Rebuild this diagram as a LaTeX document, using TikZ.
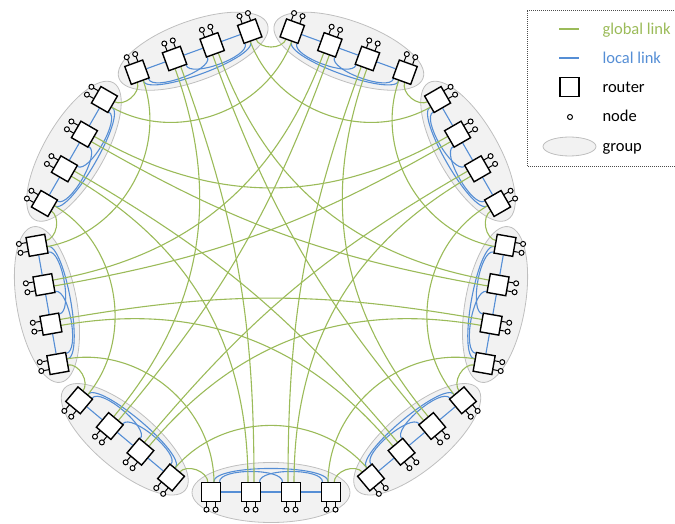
\documentclass[tikz,border=0pt]{standalone}
\usepackage{fontspec}
\setmainfont{Carlito}
\definecolor{glinkc}{HTML}{9BBB59}
\definecolor{llinkc}{HTML}{558ED5}
\pgfdeclarelayer{grps}
\pgfdeclarelayer{links}
\pgfsetlayers{grps,links,main}

\begin{document}
\begin{tikzpicture}[x=1pt, y=1pt, font=\fontsize{16.5}{19}\selectfont,
  router/.style={draw, fill=white, line width=1.4pt, minimum size=19pt, inner sep=0pt},
  host/.style={circle, draw, fill=white, line width=1pt, minimum size=5pt, inner sep=0pt},
  glink/.style={glinkc, line width=1.1pt},
  llink/.style={llinkc, line width=1.1pt},
  grp/.style={draw=black!25, fill=black!5, line width=0.8pt},
  legend/.style={anchor=base west}]
\useasboundingbox (0,0) rectangle (675,523);
\foreach \g in {0,...,8}{
  \pgfmathtruncatemacro\a{40*\g}
  \begin{scope}[shift={(271,258)}, rotate=\a]
    \begin{pgfonlayer}{grps}
      \draw[grp] (0,-227.5) ellipse [x radius=79, y radius=30];
    \end{pgfonlayer}
    \foreach \i in {0,...,3}{
      \pgfmathsetmacro\x{40*\i-60}
      \pgfmathtruncatemacro\pa{6-2*\i}
      \pgfmathtruncatemacro\pb{7-2*\i}
      \node[router, rotate=\a] (r\g-\i) at (\x,-227) {};
      \node[host] (h\g-\i-a) at ({\x-4.5},-244.6) {};
      \node[host] (h\g-\i-b) at ({\x+4.5},-244.6) {};
      \coordinate (g\g-p\pa) at ({\x+3},-218);
      \coordinate (g\g-p\pb) at ({\x-3},-218);
      \begin{pgfonlayer}{links}
        \draw[line width=1pt] (h\g-\i-a) -- ({\x-4.5},-236);
        \draw[line width=1pt] (h\g-\i-b) -- ({\x+4.5},-236);
      \end{pgfonlayer}
    }
    \begin{pgfonlayer}{links}
      \draw[llink] (r\g-0) -- (r\g-1) -- (r\g-2) -- (r\g-3);
      \draw[llink] (r\g-0.75) .. controls (-57.3,-199) and (57.3,-199) .. (r\g-3.105);
      \draw[llink] (r\g-0.50) .. controls (-51.6,-203) and (11.6,-203) .. (r\g-2.130);
      \draw[llink] (r\g-1.50) .. controls (-11.6,-203) and (51.6,-203) .. (r\g-3.130);
    \end{pgfonlayer}
  \end{scope}
}
\begin{pgfonlayer}{links}
\foreach \g in {0,...,8}{
  \foreach \dist in {1,...,4}{
    \pgfmathtruncatemacro\h{mod(\g+\dist,9)}
    \pgfmathtruncatemacro\p{\dist-1}
    \pgfmathtruncatemacro\q{8-\dist}
    \pgfmathtruncatemacro\ao{40*\g+90}
    \pgfmathtruncatemacro\ai{40*\h+90}
    \draw[glink] (g\g-p\p) to[out=\ao, in=\ai] (g\h-p\q);
  }
}
\end{pgfonlayer}
\draw[dash pattern=on 1pt off 1pt, line width=0.8pt, black!70] (527,357) rectangle (690,513);
\draw[glink] (559,494) -- (579,494);
\node[legend, text=glinkc] (lg) at (599,488) {global link};
\draw[llink] (559,465) -- (579,465);
\node[legend, text=llinkc] (ll) at (599,459.5) {local link};
\node[router] (lr) at (569.5,436) {};
\node[legend] (lrt) at (599,430) {router};
\node[host] (lh) at (570,406) {};
\node[legend] (lht) at (599,401) {node};
\draw[grp] (569.5,376.5) ellipse [x radius=26.5, y radius=9.5];
\node[legend] (lgt) at (599,371) {group};
\end{tikzpicture}
\end{document}
